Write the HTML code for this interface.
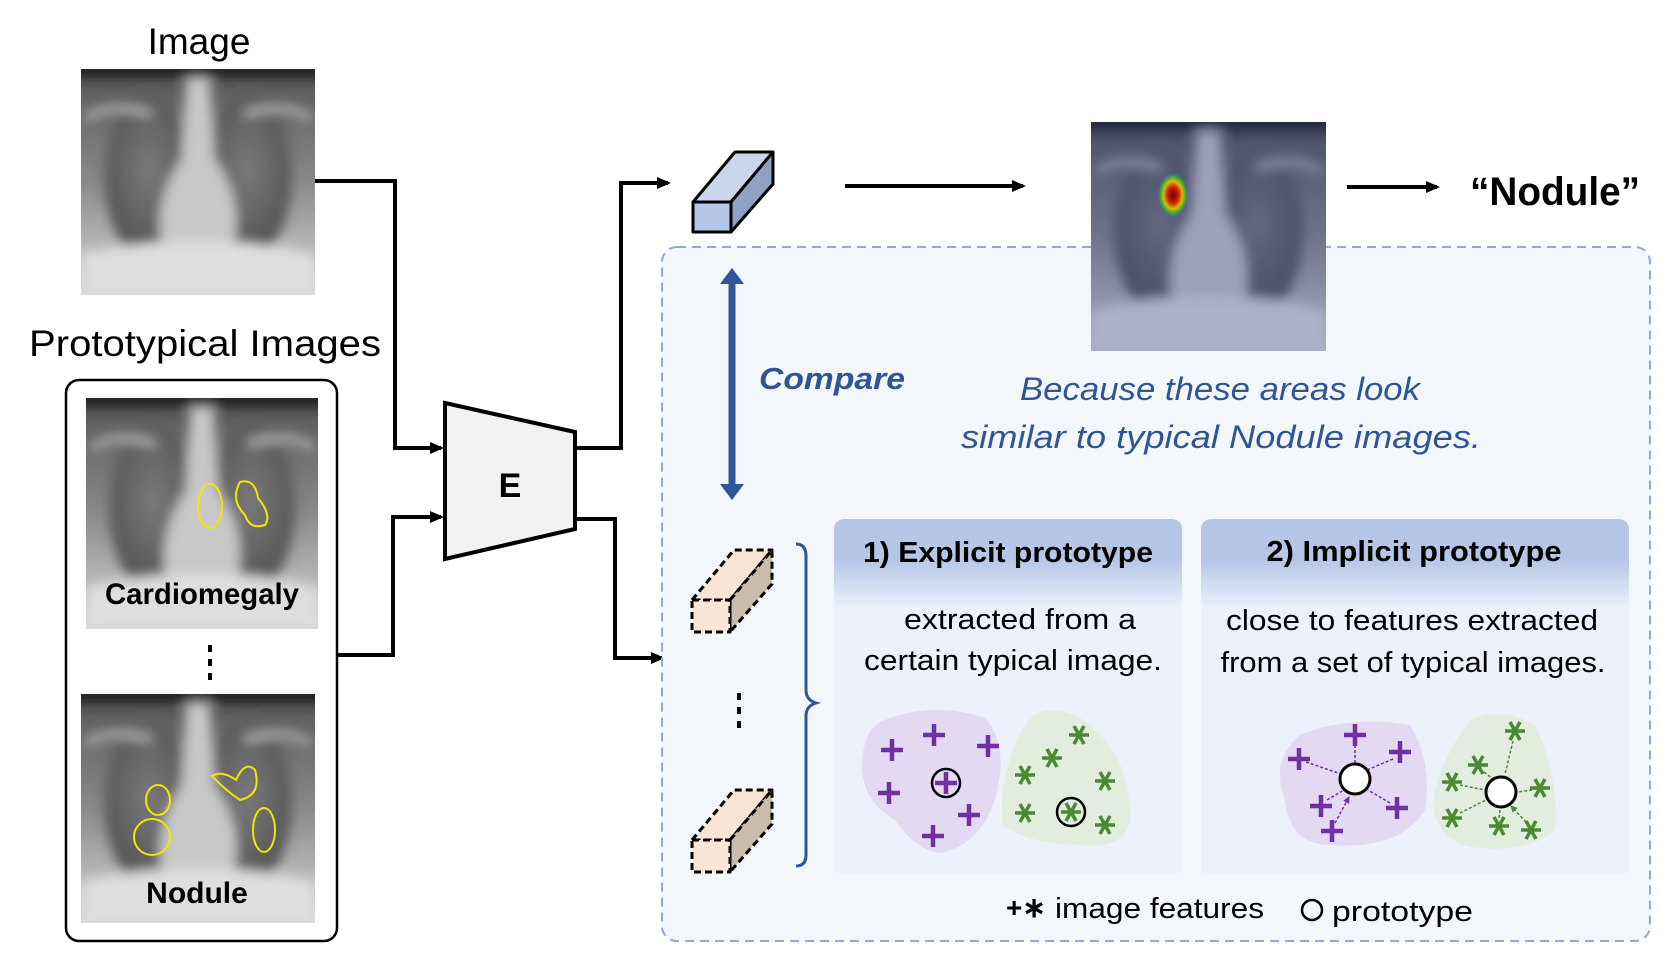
<!DOCTYPE html>
<html><head><meta charset="utf-8"><style>
html,body{margin:0;padding:0;background:#fff;}
svg{display:block;font-family:"Liberation Sans",sans-serif;}
</style></head><body>
<svg width="1661" height="954" viewBox="0 0 1661 954" xmlns="http://www.w3.org/2000/svg">
<defs>
 <filter id="bl" x="-5%" y="-5%" width="110%" height="110%"><feGaussianBlur stdDeviation="2.5"/></filter>
 <radialGradient id="lung" cx="0.5" cy="0.45" r="0.6"><stop offset="0" stop-color="#7a7a7a"/><stop offset="1" stop-color="#505050"/></radialGradient>
 <linearGradient id="bg" x1="0" y1="0" x2="0" y2="1"><stop offset="0" stop-color="#555"/><stop offset="0.5" stop-color="#8a8a8a"/><stop offset="1" stop-color="#d8d8d8"/></linearGradient>
 <symbol id="xr" viewBox="0 0 100 100" preserveAspectRatio="none">
  <rect width="100" height="100" fill="url(#bg)"/>
  <g filter="url(#bl)">
  <rect x="-5" y="-5" width="110" height="9" fill="#222"/>
  <ellipse cx="29" cy="48" rx="19" ry="36" fill="url(#lung)"/>
  <ellipse cx="71" cy="48" rx="19" ry="36" fill="url(#lung)"/>
  <path d="M45 4 L55 4 L57 40 Q70 58 65 80 L35 80 Q30 60 43 40 Z" fill="#c8c8c8"/>
  <path d="M0 82 Q50 70 100 82 L100 100 L0 100 Z" fill="#dedede"/>
  <path d="M2 22 Q12 14 30 20 M98 22 Q88 14 70 20" stroke="#b5b5b5" stroke-width="3" fill="none"/>
  </g>
 </symbol>
 <linearGradient id="hdr" x1="0" y1="0" x2="0" y2="1"><stop offset="0" stop-color="#b4c7e7"/><stop offset="0.45" stop-color="#b4c7e7"/><stop offset="1" stop-color="#edf1fa"/></linearGradient>
 <radialGradient id="heat" cx="0.5" cy="0.5" r="0.5"><stop offset="0" stop-color="#6a0000"/><stop offset="0.35" stop-color="#d02000"/><stop offset="0.6" stop-color="#d0c000"/><stop offset="0.8" stop-color="#40a040"/><stop offset="1" stop-color="#4060c0" stop-opacity="0"/></radialGradient>
 <g id="pl"><path d="M-11 0 H11 M0 -11 V11" stroke="#7030a0" stroke-width="4.5"/></g>
 <g id="as"><path d="M-10 0 H10 M-5 -9 L5 9 M5 -9 L-5 9" stroke="#4a8a30" stroke-width="3.5"/></g>
 <marker id="ah" markerWidth="14" markerHeight="14" refX="11" refY="7" orient="auto" markerUnits="userSpaceOnUse"><path d="M0 1 L14 7 L0 13 Z" fill="#000"/></marker>
 <marker id="ap" markerWidth="7" markerHeight="7" refX="6" refY="3.5" orient="auto" markerUnits="userSpaceOnUse"><path d="M0 0 L7 3.5 L0 7 Z" fill="#7030a0"/></marker>
 <marker id="ag" markerWidth="7" markerHeight="7" refX="6" refY="3.5" orient="auto" markerUnits="userSpaceOnUse"><path d="M0 0 L7 3.5 L0 7 Z" fill="#4a8a30"/></marker>
</defs>

<!-- left -->
<text x="199" y="54" font-size="37" text-anchor="middle">Image</text>
<use href="#xr" x="81" y="69" width="234" height="226"/>
<text x="205" y="356" font-size="37" text-anchor="middle" textLength="352" lengthAdjust="spacingAndGlyphs">Prototypical Images</text>
<rect x="66" y="380" width="271" height="561" rx="13" fill="none" stroke="#000" stroke-width="2.5"/>
<use href="#xr" x="86" y="398" width="232" height="231"/>
<ellipse cx="210" cy="506" rx="12" ry="22" fill="none" stroke="#f0e800" stroke-width="2"/>
<path d="M240 482 Q255 478 258 498 Q272 515 265 525 Q250 530 245 515 Q230 500 240 482Z" fill="none" stroke="#f0e800" stroke-width="2"/>
<text x="202" y="604" font-size="30" font-weight="bold" text-anchor="middle" textLength="194" lengthAdjust="spacingAndGlyphs">Cardiomegaly</text>
<path d="M210 645 V652 M210 659 V666 M210 673 V680" stroke="#000" stroke-width="4"/>
<use href="#xr" x="81" y="694" width="234" height="229"/>
<ellipse cx="158" cy="800" rx="12" ry="15" fill="none" stroke="#f0e800" stroke-width="2"/>
<ellipse cx="152" cy="837" rx="18" ry="18" fill="none" stroke="#f0e800" stroke-width="2"/>
<path d="M212 776 Q222 770 236 780 Q245 760 255 770 Q262 795 240 800 Q225 790 212 776Z" fill="none" stroke="#f0e800" stroke-width="2"/>
<ellipse cx="264" cy="830" rx="11" ry="22" fill="none" stroke="#f0e800" stroke-width="2"/>
<text x="197" y="903" font-size="30" font-weight="bold" text-anchor="middle">Nodule</text>

<!-- connectors -->
<g fill="none" stroke="#000" stroke-width="4">
<path d="M315 181 H395 V448 H441" marker-end="url(#ah)"/>
<path d="M337 655 H393 V517 H441" marker-end="url(#ah)"/>
<path d="M575 448 H621 V183 H668" marker-end="url(#ah)"/>
<path d="M575 519 H615 V658 H662" marker-end="url(#ah)"/>
<path d="M845 186 H1023" marker-end="url(#ah)"/>
<path d="M1347 187 H1437" marker-end="url(#ah)"/>
</g>
<path d="M445 403 L575 432 L575 529 L445 559 Z" fill="#f2f2f2" stroke="#000" stroke-width="4"/>
<text x="510" y="497" font-size="34" font-weight="bold" text-anchor="middle">E</text>

<!-- container -->
<rect x="662" y="247" width="988" height="694" rx="15" fill="#f3f6fb" stroke="#8eaadb" stroke-width="2" stroke-dasharray="9 6"/>

<!-- blue cuboid -->
<g stroke="#000" stroke-width="3" stroke-linejoin="round">
<path d="M693 202 L735 152 L773 152 L731 202 Z" fill="#c9d6ee"/>
<path d="M731 202 L773 152 L773 184 L731 232 Z" fill="#8fa2c2"/>
<rect x="693" y="202" width="38" height="30" fill="#b4c7e7"/>
</g>

<!-- heatmap xray -->
<use href="#xr" x="1091" y="122" width="235" height="229"/>
<rect x="1091" y="122" width="235" height="229" fill="#2a3a90" opacity="0.28"/>
<ellipse cx="1173" cy="195" rx="16" ry="23" fill="url(#heat)"/>
<text x="1555" y="205" font-size="40" font-weight="bold" text-anchor="middle" textLength="170" lengthAdjust="spacingAndGlyphs">“Nodule”</text>

<!-- compare -->
<path d="M732 280 V488" stroke="#2f5597" stroke-width="7"/>
<path d="M720 284 L732 268 L744 284 Z M720 484 L732 500 L744 484 Z" fill="#2f5597"/>
<text x="759" y="389" font-size="31" font-weight="bold" font-style="italic" fill="#2f5597" textLength="146" lengthAdjust="spacingAndGlyphs">Compare</text>
<text x="1220" y="400" font-size="32" font-style="italic" fill="#2f5597" text-anchor="middle" textLength="400" lengthAdjust="spacingAndGlyphs">Because these areas look</text>
<text x="1221" y="448" font-size="32" font-style="italic" fill="#2f5597" text-anchor="middle" textLength="520" lengthAdjust="spacingAndGlyphs">similar to typical Nodule images.</text>

<!-- dashed cuboids -->
<g stroke="#000" stroke-width="3" stroke-dasharray="7 4" stroke-linejoin="round">
<path d="M692 600 L734 550 L772 550 L730 600 Z" fill="#f9e3d3"/>
<path d="M730 600 L772 550 L772 584 L730 632 Z" fill="#cbbba9"/>
<rect x="692" y="600" width="38" height="32" fill="#fbe5d6"/>
<path d="M692 840 L734 790 L772 790 L730 840 Z" fill="#f9e3d3"/>
<path d="M730 840 L772 790 L772 824 L730 872 Z" fill="#cbbba9"/>
<rect x="692" y="840" width="38" height="32" fill="#fbe5d6"/>
</g>
<path d="M739 693 V700 M739 707 V714 M739 721 V728" stroke="#000" stroke-width="4"/>
<path d="M796 544 Q806 544 806 556 V690 Q806 700 816 703 Q806 706 806 716 V855 Q806 866 796 866" fill="none" stroke="#2f5597" stroke-width="3"/>

<!-- panels -->
<path d="M834 530 Q834 519 846 519 H1170 Q1182 519 1182 530 V873 H834 Z" fill="#edf1fa"/>
<rect x="834" y="519" width="348" height="90" rx="10" fill="url(#hdr)"/>
<path d="M1201 530 Q1201 519 1213 519 H1617 Q1629 519 1629 530 V873 H1201 Z" fill="#edf1fa"/>
<rect x="1201" y="519" width="428" height="90" rx="10" fill="url(#hdr)"/>
<text x="1008" y="562" font-size="29" font-weight="bold" text-anchor="middle" textLength="290" lengthAdjust="spacingAndGlyphs">1) Explicit prototype</text>
<text x="1414" y="561" font-size="29" font-weight="bold" text-anchor="middle" textLength="295" lengthAdjust="spacingAndGlyphs">2) Implicit prototype</text>
<g font-size="29" text-anchor="middle" lengthAdjust="spacingAndGlyphs">
<text x="1020" y="629" textLength="232" lengthAdjust="spacingAndGlyphs">extracted from a</text>
<text x="1013" y="670" textLength="298" lengthAdjust="spacingAndGlyphs">certain typical image.</text>
<text x="1412" y="630" textLength="372" lengthAdjust="spacingAndGlyphs">close to features extracted</text>
<text x="1413" y="672" textLength="385" lengthAdjust="spacingAndGlyphs">from a set of typical images.</text>
</g>

<!-- blobs -->
<path d="M880 722 Q930 700 985 718 Q1010 745 995 800 Q980 845 940 853 Q915 850 895 820 Q860 800 862 760 Q865 730 880 722Z" fill="#e3d9f3"/>
<path d="M1040 712 Q1070 705 1095 730 Q1130 760 1130 820 Q1125 848 1085 845 Q1030 845 1002 825 Q1000 780 1015 745 Q1025 718 1040 712Z" fill="#e2ede0"/>
<path d="M1300 735 Q1350 715 1410 725 Q1432 760 1425 810 Q1400 850 1330 845 Q1290 845 1285 800 Q1270 760 1300 735Z" fill="#e3d9f3"/>
<path d="M1470 720 Q1500 705 1535 725 Q1560 780 1555 830 Q1530 852 1480 848 Q1435 845 1433 800 Q1440 760 1470 720Z" fill="#e2ede0"/>

<!-- panel1 symbols -->
<use href="#pl" x="892" y="750"/><use href="#pl" x="934" y="735"/><use href="#pl" x="988" y="746"/>
<use href="#pl" x="889" y="793"/><use href="#pl" x="946" y="783"/><use href="#pl" x="969" y="815"/><use href="#pl" x="933" y="836"/>
<circle cx="946" cy="783" r="14" fill="none" stroke="#000" stroke-width="2.5"/>
<use href="#as" x="1079" y="735"/><use href="#as" x="1052" y="758"/><use href="#as" x="1025" y="775"/>
<use href="#as" x="1105" y="781"/><use href="#as" x="1025" y="813"/><use href="#as" x="1071" y="812"/><use href="#as" x="1105" y="825"/>
<circle cx="1071" cy="812" r="14" fill="none" stroke="#000" stroke-width="2.5"/>

<!-- panel2 symbols -->
<g stroke-width="1.5" stroke-dasharray="3 2">
<path d="M1355 745 L1355 763 M1306 762 L1341 774 M1393 759 L1367 770 M1327 800 L1344 790 M1390 803 L1368 790 M1335 823 L1349 797" stroke="#7030a0" marker-end="url(#ap)"/>
<path d="M1513 741 L1505 774 M1484 772 L1493 779 M1460 785 L1485 790 M1532 790 L1518 792 M1460 813 L1486 800 M1499 818 L1500 810 M1526 822 L1511 806" stroke="#4a8a30" marker-end="url(#ag)"/>
</g>
<use href="#pl" x="1355" y="735"/><use href="#pl" x="1299" y="759"/><use href="#pl" x="1400" y="752"/>
<use href="#pl" x="1321" y="806"/><use href="#pl" x="1397" y="808"/><use href="#pl" x="1332" y="831"/>
<circle cx="1355" cy="779" r="15" fill="#fff" stroke="#000" stroke-width="3"/>
<use href="#as" x="1515" y="731"/><use href="#as" x="1478" y="765"/><use href="#as" x="1452" y="782"/>
<use href="#as" x="1540" y="788"/><use href="#as" x="1452" y="818"/><use href="#as" x="1499" y="826"/><use href="#as" x="1531" y="830"/>
<circle cx="1501" cy="792" r="15" fill="#fff" stroke="#000" stroke-width="3"/>

<!-- legend -->
<text x="1006" y="917" font-size="28" font-weight="bold">+∗</text>
<text x="1055" y="918" font-size="29" textLength="209" lengthAdjust="spacingAndGlyphs">image features</text>
<circle cx="1312" cy="910" r="10" fill="none" stroke="#000" stroke-width="2.5"/>
<text x="1332" y="921" font-size="29" textLength="141" lengthAdjust="spacingAndGlyphs">prototype</text>
</svg>
</body></html>
